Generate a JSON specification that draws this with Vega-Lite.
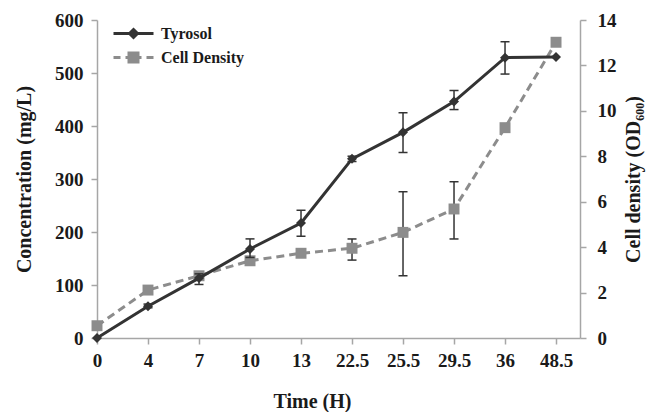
{
  "$schema": "https://vega.github.io/schema/vega-lite/v6.json",
  "width": 483,
  "height": 318,
  "autosize": {"type": "none"},
  "padding": {"left": 97, "top": 20, "right": 68, "bottom": 74},
  "background": "white",
  "config": {
    "view": {"stroke": null},
    "font": "Liberation Serif",
    "axis": {
      "labelFont": "Liberation Serif",
      "labelFontWeight": "bold",
      "labelFontSize": 19,
      "labelColor": "#1a1a1a",
      "titleFont": "Liberation Serif",
      "titleFontWeight": "bold",
      "titleFontSize": 20,
      "titleColor": "#1a1a1a",
      "domainColor": "#a6a6a6",
      "tickColor": "#a6a6a6",
      "domainWidth": 1.5,
      "tickWidth": 1.5,
      "tickSize": 6,
      "grid": false
    },
    "legend": {
      "orient": "none",
      "legendX": 25,
      "legendY": 2,
      "padding": 0,
      "symbolSize": 400,
      "symbolStrokeWidth": 3,
      "labelFont": "Liberation Serif",
      "labelFontWeight": "bold",
      "labelFontSize": 16,
      "labelColor": "#1a1a1a",
      "labelOffset": 16,
      "rowPadding": 2
    }
  },
  "datasets": {
    "d": [
      {"time": "0", "series": "Tyrosol", "value": 0},
      {"time": "4", "series": "Tyrosol", "value": 60, "lo": 57, "hi": 64},
      {"time": "7", "series": "Tyrosol", "value": 113, "lo": 101, "hi": 121},
      {"time": "10", "series": "Tyrosol", "value": 168, "lo": 152, "hi": 187},
      {"time": "13", "series": "Tyrosol", "value": 217, "lo": 192, "hi": 241},
      {"time": "22.5", "series": "Tyrosol", "value": 338, "lo": 333, "hi": 343},
      {"time": "25.5", "series": "Tyrosol", "value": 388, "lo": 350, "hi": 425},
      {"time": "29.5", "series": "Tyrosol", "value": 446, "lo": 431, "hi": 467},
      {"time": "36", "series": "Tyrosol", "value": 529, "lo": 498, "hi": 559},
      {"time": "48.5", "series": "Tyrosol", "value": 530},
      {"time": "0", "series": "Cell Density", "value": 0.54},
      {"time": "4", "series": "Cell Density", "value": 2.11},
      {"time": "7", "series": "Cell Density", "value": 2.74},
      {"time": "10", "series": "Cell Density", "value": 3.4},
      {"time": "13", "series": "Cell Density", "value": 3.73},
      {"time": "22.5", "series": "Cell Density", "value": 3.95, "lo": 3.43, "hi": 4.36},
      {"time": "25.5", "series": "Cell Density", "value": 4.65, "lo": 2.74, "hi": 6.44},
      {"time": "29.5", "series": "Cell Density", "value": 5.68, "lo": 4.36, "hi": 6.88},
      {"time": "36", "series": "Cell Density", "value": 9.26},
      {"time": "48.5", "series": "Cell Density", "value": 13.02}
    ]
  },
  "data": {"name": "d"},
  "encoding": {
    "x": {
      "field": "time",
      "type": "ordinal",
      "sort": ["0", "4", "7", "10", "13", "22.5", "25.5", "29.5", "36", "48.5"],
      "scale": {"type": "point", "padding": 0.235, "align": 0},
      "axis": {
        "title": "Time (H)",
        "labelAngle": 0,
        "labelPadding": 7,
        "titlePadding": 21,
        "titleX": 215,
        "titleAlign": "center"
      }
    }
  },
  "layer": [
    {
      "transform": [{"filter": "datum.series === 'Cell Density'"}],
      "encoding": {
        "y": {
          "field": "value",
          "type": "quantitative",
          "scale": {"domain": [0, 14], "nice": false},
          "axis": {
            "orient": "right",
            "title": "Cell density (OD₆₀₀)",
            "values": [0, 2, 4, 6, 8, 10, 12, 14],
            "labelPadding": 11,
            "titlePadding": 27,
            "titleAngle": -90,
            "titleFontSize": 20
          }
        }
      },
      "layer": [
        {
          "mark": {"type": "line", "strokeWidth": 3, "strokeDash": [8, 5]},
          "encoding": {
            "color": {
              "field": "series",
              "type": "nominal",
              "scale": {"domain": ["Tyrosol", "Cell Density"], "range": ["#333333", "#8c8c8c"]},
              "legend": {
                "title": null,
                "encode": {
                  "symbols": {
                    "update": {
                      "shape": {"signal": "datum.value === 'Tyrosol' ? 'M-2,0H2M0,-0.4L0.4,0L0,0.4L-0.4,0Z' : 'M-2,0H-1.3M-0.8,0H0.8M1.3,0H2M-0.45,-0.45H0.45V0.45H-0.45Z'"},
                      "fill": {"signal": "datum.value === 'Tyrosol' ? '#333333' : '#8c8c8c'"},
                      "fillOpacity": {"value": 1}
                    }
                  }
                }
              }
            }
          }
        },
        {
          "transform": [{"filter": "isValid(datum.lo)"}],
          "mark": {"type": "rule", "color": "#333333", "strokeWidth": 1.5},
          "encoding": {"y": {"field": "lo", "type": "quantitative"}, "y2": {"field": "hi"}}
        },
        {
          "transform": [{"filter": "isValid(datum.lo)"}],
          "mark": {"type": "tick", "color": "#333333", "size": 9, "thickness": 1.5, "opacity": 1},
          "encoding": {"y": {"field": "lo", "type": "quantitative"}}
        },
        {
          "transform": [{"filter": "isValid(datum.hi)"}],
          "mark": {"type": "tick", "color": "#333333", "size": 9, "thickness": 1.5, "opacity": 1},
          "encoding": {"y": {"field": "hi", "type": "quantitative"}}
        },
        {
          "mark": {"type": "point", "shape": "square", "filled": true, "size": 120, "color": "#8c8c8c", "opacity": 1}
        }
      ]
    },
    {
      "transform": [{"filter": "datum.series === 'Tyrosol'"}],
      "encoding": {
        "y": {
          "field": "value",
          "type": "quantitative",
          "scale": {"domain": [0, 600], "nice": false},
          "axis": {
            "orient": "left",
            "title": "Concentration (mg/L)",
            "values": [0, 100, 200, 300, 400, 500, 600],
            "labelPadding": 8,
            "titlePadding": 20
          }
        }
      },
      "layer": [
        {
          "transform": [{"filter": "isValid(datum.lo)"}],
          "mark": {"type": "rule", "color": "#333333", "strokeWidth": 1.5},
          "encoding": {"y": {"field": "lo", "type": "quantitative"}, "y2": {"field": "hi"}}
        },
        {
          "transform": [{"filter": "isValid(datum.lo)"}],
          "mark": {"type": "tick", "color": "#333333", "size": 9, "thickness": 1.5, "opacity": 1},
          "encoding": {"y": {"field": "lo", "type": "quantitative"}}
        },
        {
          "transform": [{"filter": "isValid(datum.hi)"}],
          "mark": {"type": "tick", "color": "#333333", "size": 9, "thickness": 1.5, "opacity": 1},
          "encoding": {"y": {"field": "hi", "type": "quantitative"}}
        },
        {
          "mark": {"type": "line", "strokeWidth": 3},
          "encoding": {
            "color": {"field": "series", "type": "nominal"}
          }
        },
        {
          "mark": {"type": "point", "shape": "diamond", "filled": true, "size": 100, "color": "#333333", "opacity": 1}
        }
      ]
    }
  ],
  "resolve": {"scale": {"y": "independent"}}
}
